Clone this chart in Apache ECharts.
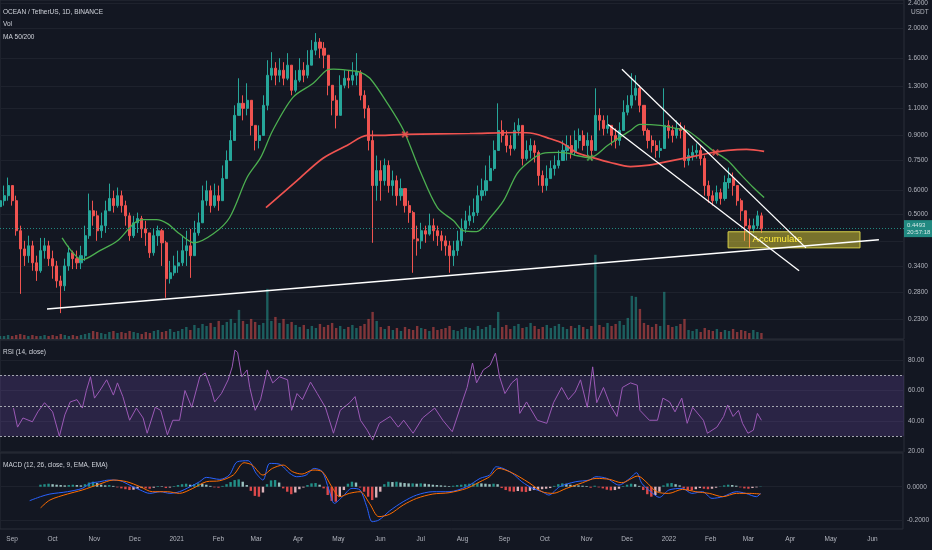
<!DOCTYPE html>
<html><head><meta charset="utf-8">
<script src="https://cdn.jsdelivr.net/npm/echarts@6/dist/echarts.min.js"></script>
<style>html,body{margin:0;padding:0;background:#131722;}#c{width:932px;height:550px;}</style>
</head><body><div id="c"></div>
<script>
// ---------- data ----------
const startDate = '2020-08-23';
const candleStepDays = 3;
const firstOpen = 0.53;
const closes = [
.554,.575,.620,.554,.443,.387,.368,.396,.349,.329,
.382,.396,.360,.341,.305,.294,.341,.376,.360,.349,
.368,.427,.514,.495,.443,.460,.514,.563,.534,.575,
.534,.495,.427,.470,.485,.449,.436,.376,.427,.443,
.405,.310,.324,.341,.349,.382,.396,.368,.436,.470,
.554,.597,.534,.575,.554,.653,.747,.867,1.045,1.143,
1.101,1.169,.970,.867,.900,1.126,1.408,1.484,1.408,1.462,
1.377,1.518,1.259,1.357,1.462,1.408,1.518,1.697,1.802,1.722,
1.635,1.307,1.169,1.045,1.307,1.377,1.357,1.408,1.440,1.213,
1.101,.867,.620,.693,.643,.720,.620,.643,.575,.606,
.534,.507,.417,.411,.443,.432,.460,.443,.427,.411,
.396,.368,.382,.411,.449,.477,.495,.507,.575,.597,
.643,.704,.805,.934,.900,.835,.817,.934,.970,.758,
.805,.835,.793,.668,.620,.653,.704,.720,.747,.805,
.835,.793,.867,.900,.835,.867,.805,1.045,1.007,.948,
.970,.900,.867,.934,1.069,1.126,1.213,1.278,1.126,.934,
.867,.835,.805,.817,.970,.934,.900,.948,.934,.747,
.775,.793,.805,.758,.620,.575,.554,.588,.563,.634,
.653,.620,.554,.514,.460,.449,.460,.495,.4493];
const highs = [
.597,.620,.658,.620,.575,.460,.411,.427,.411,.368,
.420,.420,.411,.382,.354,.317,.360,.396,.382,.382,
.396,.460,.584,.554,.514,.507,.554,.629,.597,.611,
.597,.554,.507,.495,.507,.495,.477,.427,.449,.460,
.449,.411,.354,.368,.382,.427,.443,.449,.477,.507,
.620,.643,.620,.629,.620,.720,.805,.934,1.126,1.377,
1.213,1.327,1.169,.970,.970,1.213,1.575,1.672,1.552,1.599,
1.552,1.660,1.518,1.462,1.599,1.552,1.697,1.829,1.927,1.856,
1.802,1.575,1.307,1.213,1.408,1.462,1.462,1.552,1.660,1.462,
1.259,1.126,.934,.775,.747,.758,.747,.693,.668,.653,
.597,.554,.514,.460,.470,.460,.503,.485,.460,.443,
.427,.411,.411,.443,.485,.514,.534,.563,.620,.653,
.720,.775,.867,1.143,1.007,.934,.900,.992,1.022,.970,
.867,.880,.867,.805,.693,.720,.747,.775,.805,.867,
.900,.900,.934,.948,.934,.920,.900,1.278,1.101,1.045,
1.045,.970,.948,.992,1.169,1.213,1.430,1.408,1.307,1.126,
.948,.900,.867,.867,1.278,1.007,.970,1.007,.992,.970,
.817,.835,.848,.835,.775,.643,.597,.620,.606,.668,
.709,.683,.620,.563,.514,.485,.485,.514,.507];
const lows = [
.514,.534,.554,.534,.427,.277,.341,.349,.329,.305,
.324,.360,.341,.310,.290,.240,.283,.329,.333,.333,
.333,.354,.417,.460,.411,.420,.436,.514,.507,.526,
.507,.460,.411,.420,.436,.420,.396,.362,.368,.396,
.341,.269,.299,.317,.324,.341,.341,.312,.396,.427,
.495,.534,.507,.526,.514,.554,.668,.758,.934,1.045,
1.007,1.045,.900,.805,.817,.900,1.085,1.357,1.307,1.337,
1.307,1.357,1.213,1.240,1.337,1.337,1.377,1.552,1.635,1.599,
1.484,1.213,1.045,.948,1.085,1.278,1.278,1.307,1.307,1.169,
1.022,.805,.405,.554,.554,.620,.588,.575,.534,.554,
.507,.470,.324,.368,.387,.405,.427,.411,.396,.382,
.368,.324,.341,.368,.396,.436,.460,.470,.495,.554,
.575,.643,.693,.835,.854,.793,.775,.805,.900,.720,
.747,.758,.736,.620,.588,.597,.653,.668,.704,.747,
.747,.758,.775,.817,.805,.775,.747,.805,.934,.900,
.913,.835,.817,.835,.934,1.045,1.101,1.169,1.069,.900,
.817,.793,.763,.763,.900,.880,.854,.880,.880,.709,
.720,.747,.758,.720,.575,.546,.534,.542,.538,.554,
.606,.575,.534,.477,.411,.390,.436,.449,.436];
const volumes = [
6,6,8,6,8,10,8,6,8,6,6,8,6,8,6,10,8,6,8,6,8,10,
12,16,14,12,10,14,16,12,14,12,16,14,12,10,14,12,16,18,14,16,20,14,16,
20,24,18,28,22,30,26,32,24,36,28,34,40,32,
58,
36,30,40,34,28,32,
100,
36,44,32,40,30,34,28,
24,28,20,26,22,30,24,28,32,22,26,20,24,28,22,26,30,
40,54,36,
24,20,26,18,22,16,24,20,18,26,22,20,16,24,18,20,22,26,18,16,20,24,22,18,26,20,24,28,22,
54,
24,28,20,26,30,22,24,32,26,20,24,28,22,26,30,24,20,26,22,28,24,20,26,
168,
28,24,32,26,30,36,28,
42,86,84,60,
32,28,24,30,26,
94,
28,24,26,30,
40,
18,16,20,14,22,18,16,20,14,18,16,20,14,18,16,12,18,14,12];
// [day since start, value]
const ma50Points = [[46,.420],[61,.357],[74,.382],[87,.411],[99,.467],[106,.481],[116,.481],[124,.467],[133,.433],[144,.405],[158,.433],[170,.488],[183,.658],[193,.763],[202,.934],[217,1.195],[232,1.327],[242,1.462],[247,1.473],[257,1.462],[267,1.440],[274,1.377],[287,1.143],[299,.934],[311,.693],[324,.526],[336,.477],[343,.443],[353,.440],[363,.488],[373,.554],[383,.678],[393,.747],[402,.787],[413,.793],[422,.787],[427,.775],[437,.763],[450,.835],[459,.887],[467,.934],[474,.977],[489,.970],[501,.948],[509,.934],[519,.867],[528,.805],[539,.747],[548,.678],[558,.611],[566,.567]];
const ma200Points = [[197,.526],[220,.643],[239,.758],[257,.835],[272,.900],[281,.900],[300,.907],[348,.913],[383,.920],[395,.913],[407,.880],[417,.848],[427,.793],[439,.763],[452,.736],[467,.714],[479,.720],[494,.741],[509,.763],[524,.787],[539,.805],[553,.811],[566,.799]];
const crossDown = [[300,.907],[530,.793]];
const crossUp = [[437,.763]];
const rsiPoints = [[10,48.5],[13,36],[17,42],[24,39.5],[28,46],[33,52],[39,46],[44,30],[48,44],[52,52.5],[57,54],[61,48.5],[64,60],[67,69],[70,55],[74,60],[79,67],[84,57],[87,65],[91,56],[96,40.5],[101,48.5],[106,42],[109,32],[115,49],[119,47],[124,31],[128,40.5],[133,40.5],[137,60],[142,49],[148,69],[152,71.5],[156,62],[159,52.5],[164,58],[169,67],[172,75.5],[174,86.5],[176,85],[179,69],[183,73.5],[185,62],[189,47],[193,54],[198,73.5],[202,65],[207,69],[213,67],[216,47],[220,58],[224,54],[230,65.5],[235,58],[241,49],[247,32],[252,47],[259,52],[263,56],[267,40.5],[272,34],[276,27.5],[281,38.5],[289,43],[295,36],[299,40.5],[306,32],[313,42],[322,48.5],[328,40.5],[335,33],[341,49],[346,62],[350,78],[353,65],[358,73.5],[363,76.5],[367,84.5],[370,69],[374,58],[379,65],[383,68],[385,45],[390,52.5],[398,40.5],[405,38.5],[410,52],[416,62],[421,54],[426,59],[430,67],[435,49],[439,75.5],[442,52],[447,62],[452,50.5],[457,43],[461,62],[467,65],[472,63.5],[474,47],[481,40.5],[487,40.5],[491,55],[496,52.5],[500,46],[505,55],[509,38.5],[513,49],[521,40.5],[524,32],[531,36],[536,43],[539,50.5],[543,43],[547,47],[550,38.5],[554,32],[558,34],[561,45],[564,40.5]];
const macdPoints = [[22,-.084],[30,-.060],[37,-.044],[50,-.030],[61,-.010],[67,.020],[74,.030],[81,.040],[89,.036],[96,.010],[104,-.020],[111,-.040],[119,-.030],[126,-.040],[133,-.030],[141,0],[148,.030],[153,.056],[163,.044],[170,.070],[176,.150],[184,.156],[190,.080],[195,.040],[200,.140],[207,.136],[215,.080],[220,.060],[227,.070],[233,.110],[239,.090],[244,-.020],[248,-.100],[254,-.060],[261,-.010],[267,-.020],[272,-.120],[276,-.210],[281,-.200],[289,-.145],[299,-.090],[309,-.050],[321,-.030],[333,-.030],[346,0],[356,.050],[363,.070],[368,.120],[373,.110],[380,.080],[387,.030],[395,-.010],[402,-.030],[407,-.050],[415,0],[427,.030],[437,.040],[442,.060],[450,.050],[459,.010],[467,.050],[472,.084],[476,.020],[484,-.040],[489,-.064],[496,-.020],[506,-.010],[513,-.040],[521,-.030],[528,-.070],[536,-.060],[546,-.030],[553,-.040],[561,-.060],[564,-.040]];
const signalPoints = [[30,-.128],[37,-.080],[50,-.044],[61,-.020],[74,.016],[84,.040],[94,.030],[104,0],[113,-.030],[124,-.030],[133,-.040],[143,-.010],[153,.030],[163,.036],[173,.070],[181,.144],[187,.130],[195,.070],[202,.110],[210,.130],[217,.090],[224,.076],[232,.100],[239,.090],[246,0],[252,-.060],[259,-.040],[267,-.030],[274,-.100],[281,-.180],[289,-.165],[299,-.110],[309,-.070],[321,-.044],[333,-.036],[346,-.010],[356,.030],[363,.060],[370,.110],[378,.090],[385,.060],[393,.020],[402,-.030],[410,-.040],[420,-.010],[432,.024],[442,.050],[452,.044],[461,.024],[473,.064],[479,.030],[487,-.030],[496,-.040],[506,-.016],[516,-.030],[526,-.040],[536,-.060],[546,-.040],[556,-.040],[564,-.044]];
const histStartIndex = 10;
const histogram = [
.012,.015,.018,.015,.012,.010,.008,.010,.012,.010,.008,.015,.025,.030,.022,.012,.008,.010,.005,-.004,
-.010,-.015,-.020,-.018,-.012,-.008,-.010,-.012,-.006,.004,.003,-.008,-.005,.004,.010,.015,.018,.012,.016,.020,
.018,.012,.005,-.004,-.006,.005,.015,.028,.040,.044,.030,.010,-.025,-.055,-.060,-.035,.015,.038,.040,.025,
-.010,-.030,-.045,-.035,-.015,-.005,.010,.020,.022,.012,-.010,-.050,-.085,-.090,-.060,-.020,.018,.030,.025,-.005,
-.030,-.060,-.080,-.065,-.030,.015,.030,.028,.030,.025,.022,.020,.020,.018,.020,.018,.015,.012,.010,.008,
.006,.004,.006,.010,.012,.015,.018,.020,.022,.020,.018,.015,.018,.015,-.008,-.020,-.028,-.030,-.026,-.030,
-.032,-.025,-.020,-.018,-.015,-.012,-.008,.005,.015,.020,.018,.012,.010,.008,.006,.004,-.006,.006,-.004,-.010,
-.018,-.022,-.020,-.012,.004,.012,.018,.015,.005,-.020,-.045,-.060,-.050,-.030,.008,.020,.022,.015,.008,-.010,
-.020,-.022,-.015,-.008,-.012,-.015,-.012,-.006,.002,.008,.012,.010,.006,-.004,-.010,-.012,-.008,-.004,.002];
const supportLine = [[34.8,.2475],[651,.414]];
const channelUpper = [[460.7,1.473],[597,.390]];
const channelLower = [[450.4,.977],[591.9,.329]];
const accumulateBox = [[539.3,.4396],[637,.390]];
const lastPrice = 0.4493;
const lastTime = '20:57:18';
const priceTicks = [0.23,0.28,0.34,0.5,0.6,0.75,0.9,1.1,1.3,1.6,2.0,2.4];
const priceGrid = [0.23,0.28,0.34,0.41,0.5,0.6,0.75,0.9,1.1,1.3,1.6,2.0,2.4];
const rsiTicks = [20,40,60,80];
const rsiLevels = [70,50,30];
const macdTicks = [-0.2,0];
const monthTickDates = ['2020-09-01','2020-10-01','2020-11-01','2020-12-01','2021-01-01','2021-02-01','2021-03-01','2021-04-01','2021-05-01','2021-06-01','2021-07-01','2021-08-01','2021-09-01','2021-10-01','2021-11-01','2021-12-01','2022-01-01','2022-02-01','2022-03-01','2022-04-01','2022-05-01','2022-06-01'];
const monthTickLabels = ['Sep','Oct','Nov','Dec','2021','Feb','Mar','Apr','May','Jun','Jul','Aug','Sep','Oct','Nov','Dec','2022','Feb','Mar','Apr','May','Jun'];

// ---------- build ----------
const FONT = '"Liberation Sans Narrow","Liberation Sans",Roboto,sans-serif';
const TXT = '#b2b5be';
const UP = '#26a69a', DOWN = '#ef5350';
const dayOf = s => Math.round((Date.parse(s) - Date.parse(startDate)) / 86400000);
const monthDays = monthTickDates.map(dayOf);
const labelMap = {}; monthDays.forEach((d, i) => labelMap[d] = monthTickLabels[i]);
const xMax = 669.6;

const candles = closes.map((c, i) => {
  const o = i === 0 ? firstOpen : closes[i - 1];
  return [i * candleStepDays, o, c, Math.min(lows[i], o, c), Math.max(highs[i], o, c)];
});
const volData = volumes.map((v, i) => ({
  value: [i * candleStepDays, v],
  itemStyle: { color: candles[i][2] >= candles[i][1] ? 'rgba(38,166,154,0.5)' : 'rgba(239,83,80,0.5)' }
}));
const histData = histogram.map((v, k) => {
  const prev = k > 0 ? histogram[k - 1] : 0;
  let col;
  if (v >= 0) col = v >= prev ? '#26a69a' : '#b2dfdb';
  else col = v < prev ? '#ff5252' : '#ffcdd2';
  return { value: [(histStartIndex + k) * candleStepDays, v], itemStyle: { color: col, opacity: 0.85 } };
});

const xAxisBase = (gi, show) => ({
  type: 'value', gridIndex: gi, min: 0, max: xMax,
  axisLine: { show: false }, axisTick: { show: false }, splitLine: { show: false },
  axisLabel: show ? { show: true, customValues: monthDays, formatter: v => labelMap[v] || '', color: TXT, fontSize: 6.5, fontFamily: FONT, margin: 7 } : { show: false }
});
const gridLine = { show: true, lineStyle: { color: '#1e222d', width: 1 } };
const xSym = 'path://M2,0L5,3L8,0L10,2L7,5L10,8L8,10L5,7L2,10L0,8L3,5L0,2Z';

const option = {
  backgroundColor: '#131722',
  animation: false,
  grid: [
    { left: 0, right: 28, top: 0, height: 339, show: true, borderColor: '#2a2e39', borderWidth: 1, backgroundColor: 'transparent' },
    { left: 0, right: 28, top: 0, height: 339 },
    { left: 0, right: 28, top: 340, height: 112, show: true, borderColor: '#2a2e39', borderWidth: 1 },
    { left: 0, right: 28, top: 453, height: 76, show: true, borderColor: '#2a2e39', borderWidth: 1 }
  ],
  xAxis: [xAxisBase(0, false), xAxisBase(1, false), xAxisBase(2, false), xAxisBase(3, true)],
  yAxis: [
    { type: 'log', logBase: 10, gridIndex: 0, position: 'right', min: 0.198, max: 2.465,
      axisLine: { show: false }, axisTick: { show: false, customValues: priceGrid }, splitLine: gridLine,
      axisLabel: { customValues: priceTicks, formatter: v => Number(v).toFixed(4), color: TXT, fontSize: 6.5, fontFamily: FONT, margin: 4 } },
    { type: 'value', gridIndex: 1, min: 0, max: 676, show: false, splitLine: { show: false } },
    { type: 'value', gridIndex: 2, position: 'right', min: 19.7, max: 93.1,
      axisLine: { show: false }, axisTick: { show: false, customValues: rsiTicks }, splitLine: gridLine,
      axisLabel: { customValues: rsiTicks, formatter: v => Number(v).toFixed(2), color: TXT, fontSize: 6.5, fontFamily: FONT, margin: 4 } },
    { type: 'value', gridIndex: 3, position: 'right', min: -0.254, max: 0.2025,
      axisLine: { show: false }, axisTick: { show: false, customValues: macdTicks }, splitLine: gridLine,
      axisLabel: { customValues: macdTicks, formatter: v => Number(v).toFixed(4), color: TXT, fontSize: 6.5, fontFamily: FONT, margin: 4 } }
  ],
  graphic: [
    { type: 'text', left: 3, top: 8.5, style: { text: 'OCEAN / TetherUS, 1D, BINANCE', fill: '#d1d4dc', fontSize: 6.5, fontFamily: FONT } },
    { type: 'text', left: 3, top: 20.5, style: { text: 'Vol', fill: '#d1d4dc', fontSize: 6.5, fontFamily: FONT } },
    { type: 'text', left: 3, top: 33.5, style: { text: 'MA 50/200', fill: '#d1d4dc', fontSize: 6.5, fontFamily: FONT } },
    { type: 'text', left: 3, top: 348.5, style: { text: 'RSI (14, close)', fill: '#d1d4dc', fontSize: 6.5, fontFamily: FONT } },
    { type: 'text', left: 3, top: 462, style: { text: 'MACD (12, 26, close, 9, EMA, EMA)', fill: '#d1d4dc', fontSize: 6.5, fontFamily: FONT } },
    { type: 'text', left: 911, top: 8.5, style: { text: 'USDT', fill: TXT, fontSize: 6.5, fontFamily: FONT } }
  ],
  series: [
    { type: 'bar', name: 'Vol', xAxisIndex: 1, yAxisIndex: 1, data: volData, barWidth: 2.4, z: 1 },
    { type: 'candlestick', name: 'OCEAN', xAxisIndex: 0, yAxisIndex: 0, data: candles,
      encode: { x: 0, y: [1, 2, 3, 4] }, barWidth: 2.6, z: 3,
      itemStyle: { color: UP, color0: DOWN, borderColor: UP, borderColor0: DOWN, borderWidth: 1 },
      markLine: { silent: true, symbol: 'none', animation: false,
        data: [{ yAxis: lastPrice }],
        lineStyle: { color: UP, type: [1, 2], width: 1, opacity: 0.8 },
        label: { show: true, position: 'end', distance: 0, formatter: lastPrice.toFixed(4) + '\n' + lastTime,
          backgroundColor: '#26a69a', color: '#ffffff', fontSize: 6, lineHeight: 7.5, padding: [1, 2, 1, 3], fontFamily: FONT } } },
    { type: 'line', name: 'MA50', xAxisIndex: 0, yAxisIndex: 0, data: ma50Points, smooth: 0.3, symbol: 'none',
      lineStyle: { color: '#4caf50', width: 1.3 }, z: 4 },
    { type: 'line', name: 'MA200', xAxisIndex: 0, yAxisIndex: 0, data: ma200Points, smooth: 0.3, symbol: 'none',
      lineStyle: { color: '#ef5350', width: 1.7 }, z: 4 },
    { type: 'scatter', xAxisIndex: 0, yAxisIndex: 0, data: crossDown, symbol: xSym, symbolSize: 7, itemStyle: { color: '#ef5350' }, z: 5 },
    { type: 'scatter', xAxisIndex: 0, yAxisIndex: 0, data: crossUp, symbol: xSym, symbolSize: 7, itemStyle: { color: '#4caf50' }, z: 5 },
    { type: 'line', xAxisIndex: 0, yAxisIndex: 0, data: accumulateBox, symbol: 'none', lineStyle: { opacity: 0 }, z: 6,
      markArea: { silent: true, z: 6,
        itemStyle: { color: 'rgba(255,235,59,0.43)', borderColor: '#d9d24a', borderWidth: 1 },
        label: { show: true, position: 'insideLeft', offset: [20, 0], color: '#ffeb3b', fontSize: 9.5, fontFamily: FONT },
        data: [[{ name: 'Accumulate', coord: accumulateBox[0] }, { coord: accumulateBox[1] }]] } },
    { type: 'line', xAxisIndex: 0, yAxisIndex: 0, data: supportLine, symbol: 'none', lineStyle: { color: '#ffffff', width: 1.5 }, z: 7 },
    { type: 'line', xAxisIndex: 0, yAxisIndex: 0, data: channelUpper, symbol: 'none', lineStyle: { color: '#ffffff', width: 1.3 }, z: 7 },
    { type: 'line', xAxisIndex: 0, yAxisIndex: 0, data: channelLower, symbol: 'none', lineStyle: { color: '#ffffff', width: 1.3 }, z: 7 },
    { type: 'line', name: 'RSI', xAxisIndex: 2, yAxisIndex: 2, data: rsiPoints, symbol: 'none',
      lineStyle: { color: '#9b59b6', width: 1 }, z: 3,
      markArea: { silent: true, itemStyle: { color: 'rgba(126,87,194,0.22)' }, data: [[{ yAxis: 30 }, { yAxis: 70 }]] },
      markLine: { silent: true, symbol: 'none', label: { show: false },
        lineStyle: { color: '#a3a6af', type: [2, 2], width: 1 },
        data: rsiLevels.map(v => ({ yAxis: v })) } },
    { type: 'bar', name: 'Histogram', xAxisIndex: 3, yAxisIndex: 3, data: histData, barWidth: 2.4, z: 2 },
    { type: 'line', name: 'MACD', xAxisIndex: 3, yAxisIndex: 3, data: macdPoints, smooth: 0.3, symbol: 'none',
      lineStyle: { color: '#2962ff', width: 1 }, z: 3 },
    { type: 'line', name: 'Signal', xAxisIndex: 3, yAxisIndex: 3, data: signalPoints, smooth: 0.3, symbol: 'none',
      lineStyle: { color: '#ff6d00', width: 1 }, z: 3 }
  ]
};
const chart = echarts.init(document.getElementById('c'), null, { renderer: 'canvas' });
chart.setOption(option);
</script></body></html>
